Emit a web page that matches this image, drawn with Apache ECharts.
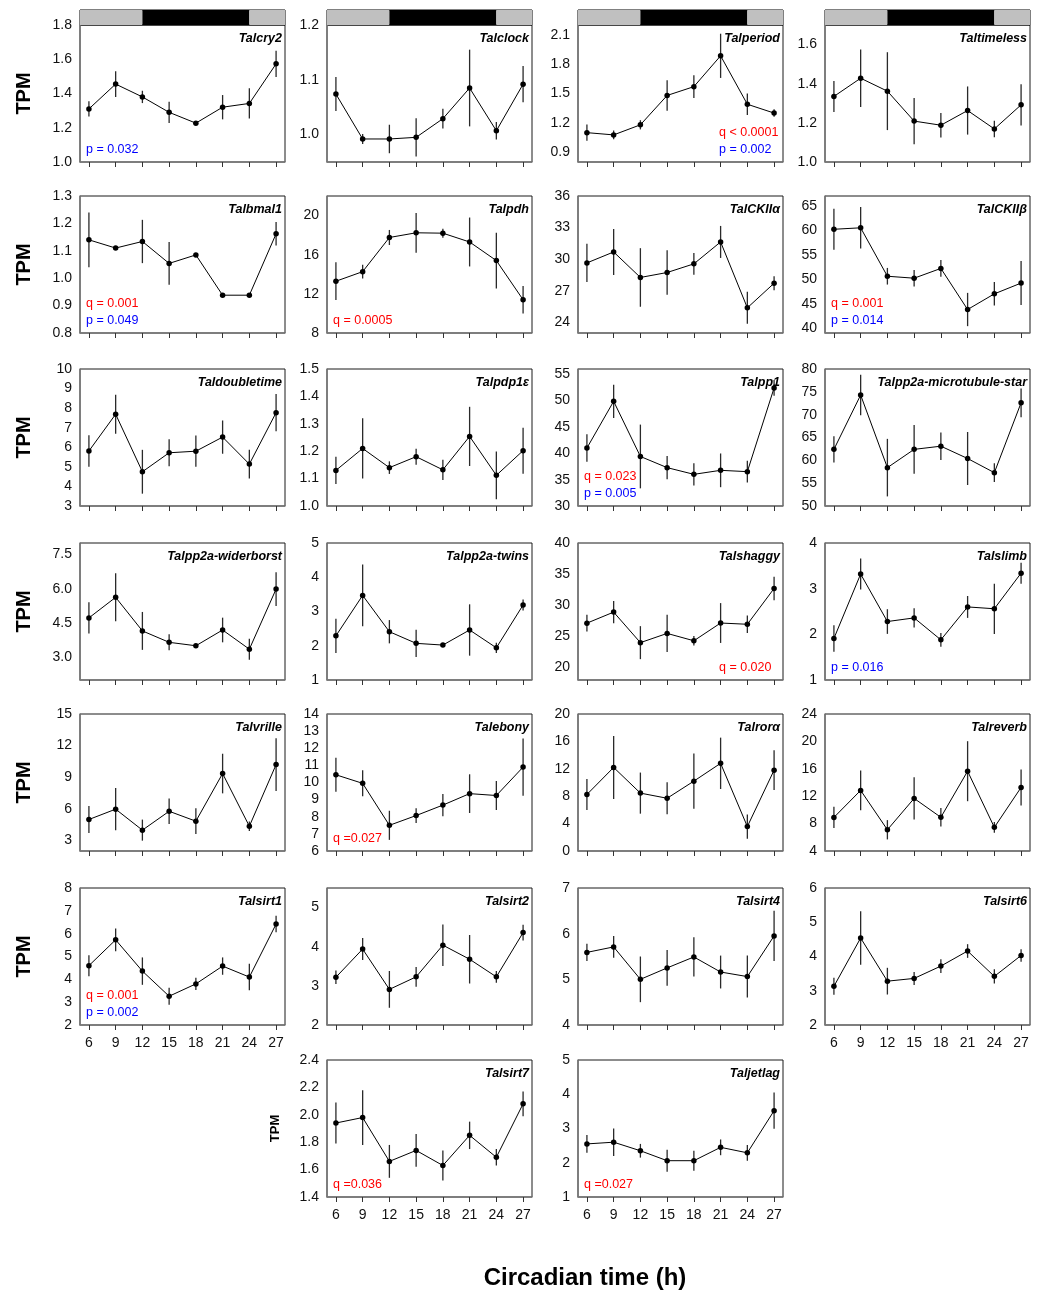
<!DOCTYPE html>
<html>
<head>
<meta charset="utf-8">
<script src="https://cdn.jsdelivr.net/npm/echarts@6/dist/echarts.min.js"></script>
<style>
  html, body { margin: 0; padding: 0; background: #fff; }
  #chart { width: 1052px; height: 1293px; }
</style>
</head>
<body>
<div id="chart"></div>
<script>
// sampling times (circadian time, h)
const times = [6, 9, 12, 15, 18, 21, 24, 27];
const xTickLabels = ['6', '9', '12', '15', '18', '21', '24', '27'];

const genes = [
  'Talcry2', 'Talclock', 'Talperiod', 'Taltimeless',
  'Talbmal1', 'Talpdh', 'TalCKIIα', 'TalCKIIβ',
  'Taldoubletime', 'Talpdp1ε', 'Talpp1', 'Talpp2a-microtubule-star',
  'Talpp2a-widerborst', 'Talpp2a-twins', 'Talshaggy', 'Talslimb',
  'Talvrille', 'Talebony', 'Talrorα', 'Talreverb',
  'Talsirt1', 'Talsirt2', 'Talsirt4', 'Talsirt6',
  'Talsirt7', 'Taljetlag'
];

// mean TPM per time point, one row per gene
const meanTPM = [
  [1.31, 1.455, 1.38, 1.29, 1.227, 1.32, 1.342, 1.573],
  [1.074, 0.992, 0.992, 0.995, 1.029, 1.085, 1.007, 1.092],
  [1.10, 1.077, 1.18, 1.48, 1.57, 1.885, 1.39, 1.30],
  [1.335, 1.428, 1.362, 1.209, 1.188, 1.263, 1.169, 1.292],
  [1.14, 1.11, 1.134, 1.054, 1.085, 0.938, 0.938, 1.162],
  [13.29, 14.27, 17.76, 18.24, 18.2, 17.3, 15.4, 11.4],
  [29.65, 30.69, 28.27, 28.74, 29.56, 31.64, 25.39, 27.72],
  [60.2, 60.5, 50.6, 50.2, 52.2, 43.8, 47.0, 49.2],
  [5.81, 7.69, 4.75, 5.72, 5.8, 6.52, 5.14, 7.77],
  [1.13, 1.21, 1.14, 1.18, 1.132, 1.254, 1.112, 1.202],
  [41.0, 49.87, 39.4, 37.28, 36.01, 36.77, 36.52, 52.4],
  [62.4, 74.3, 58.4, 62.4, 63.1, 60.4, 57.3, 72.6],
  [4.72, 5.62, 4.15, 3.65, 3.5, 4.19, 3.35, 5.98],
  [2.29, 3.47, 2.41, 2.07, 2.02, 2.46, 1.94, 3.19],
  [27.13, 28.9, 24.0, 25.48, 24.3, 27.15, 26.95, 32.7],
  [1.91, 3.32, 2.28, 2.36, 1.88, 2.6, 2.56, 3.34],
  [4.99, 5.97, 3.98, 5.77, 4.83, 9.35, 4.35, 10.2],
  [10.45, 9.95, 7.5, 8.07, 8.68, 9.35, 9.24, 10.9],
  [8.25, 12.2, 8.45, 7.7, 10.2, 12.8, 3.57, 11.8],
  [8.9, 12.85, 7.1, 11.68, 8.92, 15.65, 7.45, 13.28],
  [4.6, 5.73, 4.36, 3.26, 3.8, 4.58, 4.1, 6.42],
  [3.22, 3.94, 2.91, 3.23, 4.04, 3.68, 3.23, 4.36],
  [5.59, 5.71, 5.0, 5.25, 5.49, 5.16, 5.06, 5.95],
  [3.13, 4.54, 3.28, 3.36, 3.72, 4.16, 3.42, 4.03],
  [1.94, 1.98, 1.66, 1.74, 1.63, 1.85, 1.69, 2.08],
  [2.55, 2.6, 2.35, 2.06, 2.06, 2.45, 2.29, 3.52]
];

// error bar half-widths
const semTPM = [
  [0.045, 0.075, 0.036, 0.062, 0.006, 0.071, 0.088, 0.077],
  [0.031, 0.009, 0.026, 0.035, 0.018, 0.07, 0.016, 0.033],
  [0.083, 0.045, 0.047, 0.155, 0.117, 0.226, 0.109, 0.038],
  [0.079, 0.147, 0.199, 0.118, 0.063, 0.123, 0.042, 0.105],
  [0.1, 0.003, 0.079, 0.078, 0.003, 0.002, 0.002, 0.043],
  [1.93, 0.71, 0.77, 2.03, 0.46, 2.5, 2.85, 1.4],
  [1.81, 2.18, 2.78, 2.12, 1.04, 1.52, 1.52, 0.66],
  [4.2, 4.25, 1.7, 1.7, 1.7, 3.4, 2.4, 4.5],
  [0.8, 1.0, 1.12, 0.69, 0.8, 0.85, 0.74, 0.95],
  [0.05, 0.11, 0.023, 0.029, 0.037, 0.108, 0.087, 0.084],
  [2.6, 3.15, 6.05, 2.2, 2.1, 3.2, 2.05, 1.5],
  [2.9, 4.45, 6.3, 5.35, 3.0, 5.8, 2.05, 3.15],
  [0.68, 1.05, 0.83, 0.35, 0.04, 0.54, 0.46, 0.74],
  [0.5, 0.9, 0.34, 0.4, 0.03, 0.75, 0.15, 0.16],
  [1.35, 1.8, 2.65, 3.0, 0.75, 3.2, 1.4, 1.9],
  [0.29, 0.34, 0.27, 0.21, 0.15, 0.24, 0.55, 0.23],
  [1.28, 2.0, 1.0, 1.2, 1.22, 1.88, 0.45, 2.5],
  [0.99, 0.76, 0.85, 0.43, 0.65, 1.13, 0.85, 1.67],
  [2.25, 4.6, 3.0, 2.35, 4.03, 3.75, 1.77, 2.9],
  [1.55, 2.9, 1.41, 3.08, 1.36, 4.38, 0.8, 2.62],
  [0.46, 0.5, 0.6, 0.37, 0.27, 0.38, 0.58, 0.36],
  [0.17, 0.28, 0.47, 0.25, 0.53, 0.62, 0.15, 0.2],
  [0.19, 0.24, 0.5, 0.39, 0.43, 0.36, 0.46, 0.55],
  [0.25, 0.78, 0.39, 0.19, 0.2, 0.2, 0.21, 0.18],
  [0.15, 0.2, 0.12, 0.12, 0.11, 0.1, 0.06, 0.09],
  [0.26, 0.4, 0.2, 0.32, 0.29, 0.23, 0.23, 0.53]
];

// y axis extent per gene
const yRanges = [
  [1.0, 1.8], [0.95, 1.2], [0.8, 2.2], [1.0, 1.7],
  [0.8, 1.3], [8, 22], [23, 36], [39, 67],
  [3, 10], [1.0, 1.5], [30, 56], [50, 80],
  [2, 8], [1, 5], [18, 40], [1, 4],
  [2, 15], [6, 14], [0, 20], [4, 24],
  [2, 8], [2, 5.5], [4, 7], [2, 6],
  [1.4, 2.4], [1, 5]
];

const yTickLabels = [
  ['1.0', '1.2', '1.4', '1.6', '1.8'],
  ['1.0', '1.1', '1.2'],
  ['0.9', '1.2', '1.5', '1.8', '2.1'],
  ['1.0', '1.2', '1.4', '1.6'],
  ['0.8', '0.9', '1.0', '1.1', '1.2', '1.3'],
  ['8', '12', '16', '20'],
  ['24', '27', '30', '33', '36'],
  ['40', '45', '50', '55', '60', '65'],
  ['3', '4', '5', '6', '7', '8', '9', '10'],
  ['1.0', '1.1', '1.2', '1.3', '1.4', '1.5'],
  ['30', '35', '40', '45', '50', '55'],
  ['50', '55', '60', '65', '70', '75', '80'],
  ['3.0', '4.5', '6.0', '7.5'],
  ['1', '2', '3', '4', '5'],
  ['20', '25', '30', '35', '40'],
  ['1', '2', '3', '4'],
  ['3', '6', '9', '12', '15'],
  ['6', '7', '8', '9', '10', '11', '12', '13', '14'],
  ['0', '4', '8', '12', '16', '20'],
  ['4', '8', '12', '16', '20', '24'],
  ['2', '3', '4', '5', '6', '7', '8'],
  ['2', '3', '4', '5'],
  ['4', '5', '6', '7'],
  ['2', '3', '4', '5', '6'],
  ['1.4', '1.6', '1.8', '2.0', '2.2', '2.4'],
  ['1', '2', '3', '4', '5']
];

// significance notes (q = red, p = blue)
const statNotes = [
  ['p = 0.032'], [], ['q < 0.0001', 'p = 0.002'], [],
  ['q = 0.001', 'p = 0.049'], ['q = 0.0005'], [], ['q = 0.001', 'p = 0.014'],
  [], [], ['q = 0.023', 'p = 0.005'], [],
  [], [], ['q = 0.020'], ['p = 0.016'],
  [], ['q =0.027'], [], [],
  ['q = 0.001', 'p = 0.002'], [], [], [],
  ['q =0.036'], ['q =0.027']
];
const rightNotes = ['Talperiod', 'Talshaggy'];

// light / dark phases (CT)
const lightDark = [[5, 12, 'light'], [12, 24, 'dark'], [24, 28, 'light']];

const font = '"Liberation Sans", Arial, Helvetica, sans-serif';
const colLeft = [80, 327, 578, 825];
const rowTop = [25, 196, 369, 543, 714, 888, 1060];
const plotW = 205, plotH = 137;

const grids = [], xAxes = [], yAxes = [], series = [], graphics = [];

function slot(i) {
  return i < 24 ? [Math.floor(i / 4), i % 4] : [6, i - 23];
}
function pick(labels, v) {
  const k = labels.findIndex(s => Math.abs(Number(s) - v) < 1e-9);
  return k < 0 ? '' : labels[k];
}

genes.forEach((g, i) => {
  const [r, c] = slot(i);
  const left = colLeft[c], top = rowTop[r];
  const showX = i === 20 || i === 23 || i >= 24;
  const yLabels = yTickLabels[i];

  grids.push({ left, top, width: plotW, height: plotH, show: true,
    borderColor: '#1a1a1a', borderWidth: 1, containLabel: false });

  xAxes.push({
    gridIndex: i, type: 'value', min: 5, max: 28,
    axisLine: { show: true, onZero: false, lineStyle: { color: '#7a7a7a', width: 1.5 } },
    axisTick: { show: true, customValues: times, length: 5, lineStyle: { color: '#333', width: 1 } },
    axisLabel: { show: showX, customValues: times, formatter: v => pick(xTickLabels, v),
      fontSize: 14, color: '#111', margin: 11, fontFamily: font },
    splitLine: { show: false }
  });

  yAxes.push({
    gridIndex: i, type: 'value', min: yRanges[i][0], max: yRanges[i][1],
    axisLine: { show: true, onZero: false, lineStyle: { color: '#7a7a7a', width: 1.5 } },
    axisTick: { show: false },
    axisLabel: { customValues: yLabels.map(Number), formatter: v => pick(yLabels, v),
      fontSize: 14, color: '#111', margin: 8, fontFamily: font },
    splitLine: { show: false }
  });

  series.push({
    type: 'custom', xAxisIndex: i, yAxisIndex: i, silent: true, z: 2,
    data: times.map((t, k) => [t, meanTPM[i][k] - semTPM[i][k], meanTPM[i][k] + semTPM[i][k]]),
    encode: { x: 0, y: [1, 2] },
    renderItem: (params, api) => {
      const lo = api.coord([api.value(0), api.value(1)]);
      const hi = api.coord([api.value(0), api.value(2)]);
      return { type: 'line', shape: { x1: lo[0], y1: lo[1], x2: hi[0], y2: hi[1] },
        style: { stroke: '#2a2a2a', lineWidth: 1.3 } };
    }
  });

  series.push({
    type: 'line', xAxisIndex: i, yAxisIndex: i, z: 3, silent: true,
    data: times.map((t, k) => [t, meanTPM[i][k]]),
    symbol: 'circle', symbolSize: 5.5,
    lineStyle: { color: '#000', width: 1 },
    itemStyle: { color: '#000' }
  });

  // gene name
  graphics.push({ type: 'text', x: left + plotW - 3, y: top + 14, z: 10,
    style: { text: g, fontFamily: font, fontSize: 12.5, fontWeight: 'bold', fontStyle: 'italic',
      fill: '#000', align: 'right', verticalAlign: 'middle' } });

  // stats
  const notes = statNotes[i];
  const nx = rightNotes.includes(g) ? left + plotW - 64 : left + 6;
  notes.forEach((n, k) => {
    const fromBottom = (notes.length - k) * 17 - 5;
    graphics.push({ type: 'text', x: nx, y: top + plotH - fromBottom, z: 10,
      style: { text: n, fontFamily: font, fontSize: 12.5,
        fill: n[0] === 'q' ? '#ff0000' : '#0000ff', align: 'left', verticalAlign: 'middle' } });
  });
});

// TPM labels
for (let r = 0; r < 6; r++) {
  graphics.push({ type: 'text', x: 24, y: rowTop[r] + plotH / 2, rotation: Math.PI / 2, z: 10,
    style: { text: 'TPM', fontFamily: font, fontSize: 20, fontWeight: 'bold', fill: '#000',
      align: 'center', verticalAlign: 'middle' } });
}
graphics.push({ type: 'text', x: 275, y: rowTop[6] + plotH / 2, rotation: Math.PI / 2, z: 10,
  style: { text: 'TPM', fontFamily: font, fontSize: 13, fontWeight: 'bold', fill: '#000',
    align: 'center', verticalAlign: 'middle' } });

graphics.push({ type: 'text', x: 585, y: 1278, z: 10,
  style: { text: 'Circadian time (h)', fontFamily: font, fontSize: 24, fontWeight: 'bold', fill: '#000',
    align: 'center', verticalAlign: 'middle' } });

// light/dark bars above the first row
for (let c = 0; c < 4; c++) {
  const gi = grids.length;
  grids.push({ left: colLeft[c], top: 10, width: plotW, height: 15, show: true,
    borderColor: '#000', borderWidth: 1 });
  xAxes.push({ gridIndex: gi, type: 'value', min: 5, max: 28, show: false });
  yAxes.push({ gridIndex: gi, type: 'value', min: 0, max: 1, show: false });
  series.push({
    type: 'custom', xAxisIndex: gi, yAxisIndex: gi, silent: true, z: 1,
    data: lightDark.map(d => [d[0], d[1], d[2] === 'dark' ? 1 : 0]),
    encode: { x: [0, 1] },
    renderItem: (params, api) => {
      const a = api.coord([api.value(0), 1]);
      const b = api.coord([api.value(1), 0]);
      return { type: 'rect', shape: { x: a[0], y: a[1], width: b[0] - a[0], height: b[1] - a[1] },
        style: { fill: api.value(2) ? '#000' : '#c0c0c0' } };
    }
  });
}

const chart = echarts.init(document.getElementById('chart'), null, { renderer: 'canvas' });
chart.setOption({
  animation: false,
  backgroundColor: '#fff',
  textStyle: { fontFamily: font },
  grid: grids,
  xAxis: xAxes,
  yAxis: yAxes,
  series: series,
  graphic: graphics
});
</script>
</body>
</html>
